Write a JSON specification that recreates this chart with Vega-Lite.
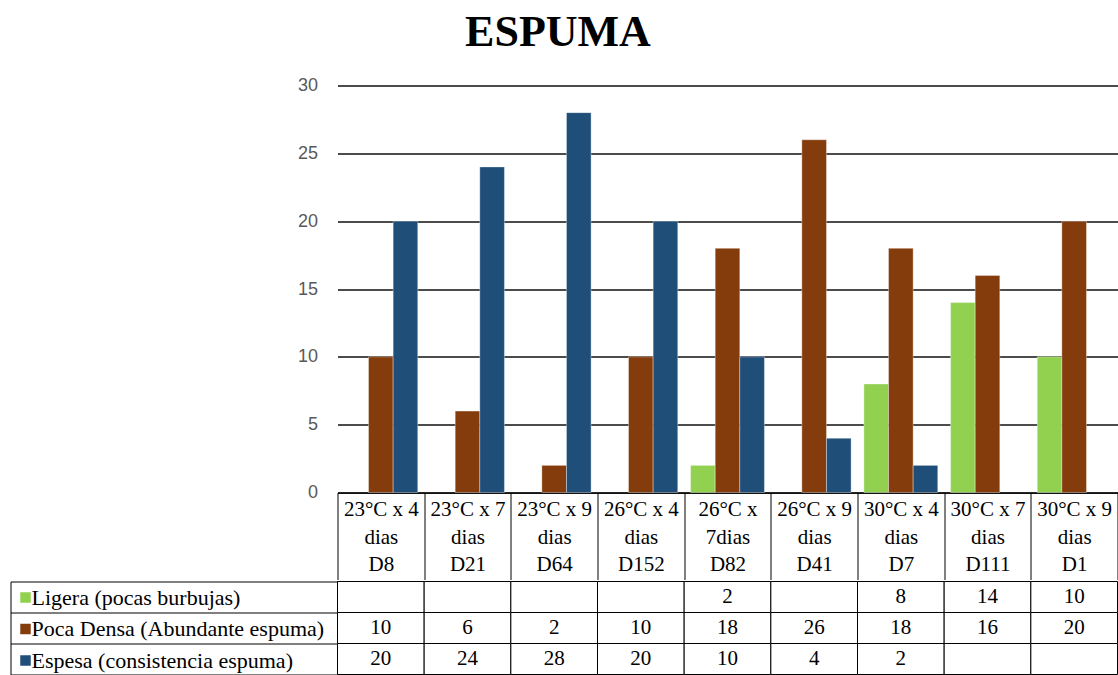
{
  "$schema": "https://vega.github.io/schema/vega-lite/v6.json",
  "background": "white",
  "padding": {"left": 9.5, "top": 10.5, "right": 0, "bottom": 0},
  "title": {"text": "ESPUMA", "font": "Liberation Serif", "fontSize": 44, "fontWeight": "bold", "color": "black", "anchor": "middle", "offset": 22, "dx": -6},
  "config": {"view": {"stroke": null}, "concat": {"spacing": 0}},
  "data": {"values": [
    {"cat": "23°C x 4\ndias\nD8", "serie": "Ligera (pocas burbujas)", "v": null},
    {"cat": "23°C x 4\ndias\nD8", "serie": "Poca Densa  (Abundante espuma)", "v": 10},
    {"cat": "23°C x 4\ndias\nD8", "serie": "Espesa (consistencia espuma)", "v": 20},
    {"cat": "23°C x 7\ndias\nD21", "serie": "Ligera (pocas burbujas)", "v": null},
    {"cat": "23°C x 7\ndias\nD21", "serie": "Poca Densa  (Abundante espuma)", "v": 6},
    {"cat": "23°C x 7\ndias\nD21", "serie": "Espesa (consistencia espuma)", "v": 24},
    {"cat": "23°C x 9\ndias\nD64", "serie": "Ligera (pocas burbujas)", "v": null},
    {"cat": "23°C x 9\ndias\nD64", "serie": "Poca Densa  (Abundante espuma)", "v": 2},
    {"cat": "23°C x 9\ndias\nD64", "serie": "Espesa (consistencia espuma)", "v": 28},
    {"cat": "26°C x 4\ndias\nD152", "serie": "Ligera (pocas burbujas)", "v": null},
    {"cat": "26°C x 4\ndias\nD152", "serie": "Poca Densa  (Abundante espuma)", "v": 10},
    {"cat": "26°C x 4\ndias\nD152", "serie": "Espesa (consistencia espuma)", "v": 20},
    {"cat": "26°C x\n7dias\nD82", "serie": "Ligera (pocas burbujas)", "v": 2},
    {"cat": "26°C x\n7dias\nD82", "serie": "Poca Densa  (Abundante espuma)", "v": 18},
    {"cat": "26°C x\n7dias\nD82", "serie": "Espesa (consistencia espuma)", "v": 10},
    {"cat": "26°C x 9\ndias\nD41", "serie": "Ligera (pocas burbujas)", "v": null},
    {"cat": "26°C x 9\ndias\nD41", "serie": "Poca Densa  (Abundante espuma)", "v": 26},
    {"cat": "26°C x 9\ndias\nD41", "serie": "Espesa (consistencia espuma)", "v": 4},
    {"cat": "30°C x 4\ndias\nD7", "serie": "Ligera (pocas burbujas)", "v": 8},
    {"cat": "30°C x 4\ndias\nD7", "serie": "Poca Densa  (Abundante espuma)", "v": 18},
    {"cat": "30°C x 4\ndias\nD7", "serie": "Espesa (consistencia espuma)", "v": 2},
    {"cat": "30°C x 7\ndias\nD111", "serie": "Ligera (pocas burbujas)", "v": 14},
    {"cat": "30°C x 7\ndias\nD111", "serie": "Poca Densa  (Abundante espuma)", "v": 16},
    {"cat": "30°C x 7\ndias\nD111", "serie": "Espesa (consistencia espuma)", "v": null},
    {"cat": "30°C x 9\ndias\nD1", "serie": "Ligera (pocas burbujas)", "v": 10},
    {"cat": "30°C x 9\ndias\nD1", "serie": "Poca Densa  (Abundante espuma)", "v": 20},
    {"cat": "30°C x 9\ndias\nD1", "serie": "Espesa (consistencia espuma)", "v": null}
  ]},
  "vconcat": [
    {
      "width": 780,
      "height": 407,
      "mark": {"type": "bar", "stroke": "white", "strokeWidth": 0.6, "strokeOpacity": 0.6},
      "encoding": {
        "x": {"field": "cat", "type": "nominal", "sort": null,
          "scale": {"paddingInner": 0, "paddingOuter": 0},
          "axis": {"title": null, "labelExpr": "split(datum.label, '\\n')", "labelAngle": 0,
            "labelFont": "Liberation Serif", "labelFontSize": 21, "labelColor": "black",
            "labelLineHeight": 27.5, "labelBaseline": "middle", "labelPadding": -70,
            "labelOverlap": false, "labelLimit": 0,
            "ticks": true, "tickSize": 87, "tickColor": "black", "tickWidth": 1, "tickBand": "extent",
            "domain": true, "domainColor": "black", "domainWidth": 1.25, "grid": false}},
        "xOffset": {"field": "serie", "type": "nominal",
          "sort": ["Ligera (pocas burbujas)", "Poca Densa  (Abundante espuma)", "Espesa (consistencia espuma)"],
          "scale": {"paddingInner": 0, "paddingOuter": 0.26}},
        "y": {"field": "v", "type": "quantitative",
          "scale": {"domain": [0, 30], "nice": false},
          "axis": {"title": null, "values": [0, 5, 10, 15, 20, 25, 30],
            "labelFont": "Liberation Sans", "labelFontSize": 18, "labelColor": "#595959", "labelPadding": 20,
            "ticks": false, "domain": false, "grid": true, "gridColor": "#111111", "gridWidth": 1.3}},
        "color": {"field": "serie", "type": "nominal",
          "scale": {"domain": ["Ligera (pocas burbujas)", "Poca Densa  (Abundante espuma)", "Espesa (consistencia espuma)"],
            "range": ["#92d050", "#843c0c", "#1f4e79"]},
          "legend": null}
      }
    },
    {
      "width": 780,
      "height": 93,
      "encoding": {
        "x": {"field": "cat", "type": "nominal", "sort": null,
          "scale": {"paddingInner": 0, "paddingOuter": 0}, "axis": null},
        "y": {"field": "serie", "type": "nominal",
          "sort": ["Ligera (pocas burbujas)", "Poca Densa  (Abundante espuma)", "Espesa (consistencia espuma)"],
          "scale": {"paddingInner": 0, "paddingOuter": 0},
          "axis": {"title": null, "labels": false, "offset": 327, "domain": true, "domainColor": "black", "domainWidth": 1,
            "ticks": true, "tickSize": -327, "tickColor": "black", "tickWidth": 1, "tickBand": "extent", "grid": false}}
      },
      "layer": [
        {"mark": {"type": "rect", "fill": "white", "stroke": "black", "strokeWidth": 1}},
        {"mark": {"type": "point", "shape": "square", "filled": true, "opacity": 0},
          "encoding": {"color": {"field": "serie", "type": "nominal",
            "scale": {"domain": ["Ligera (pocas burbujas)", "Poca Densa  (Abundante espuma)", "Espesa (consistencia espuma)"],
              "range": ["#92d050", "#843c0c", "#1f4e79"]},
            "legend": {"orient": "none", "legendX": -323, "legendY": 5, "title": null,
              "symbolType": "square", "symbolSize": 110, "symbolOpacity": 1, "symbolStrokeWidth": 0,
              "labelFont": "Liberation Serif", "labelFontSize": 22, "labelColor": "black", "labelOffset": -5,
              "rowPadding": 9.5, "padding": 0, "labelLimit": 400}}}},
        {"transform": [{"filter": "datum.v != null"}],
          "mark": {"type": "text", "font": "Liberation Serif", "fontSize": 21, "color": "black"},
          "encoding": {"text": {"field": "v", "type": "quantitative"}}}
      ]
    }
  ],
  "resolve": {"scale": {"color": "independent"}}
}
